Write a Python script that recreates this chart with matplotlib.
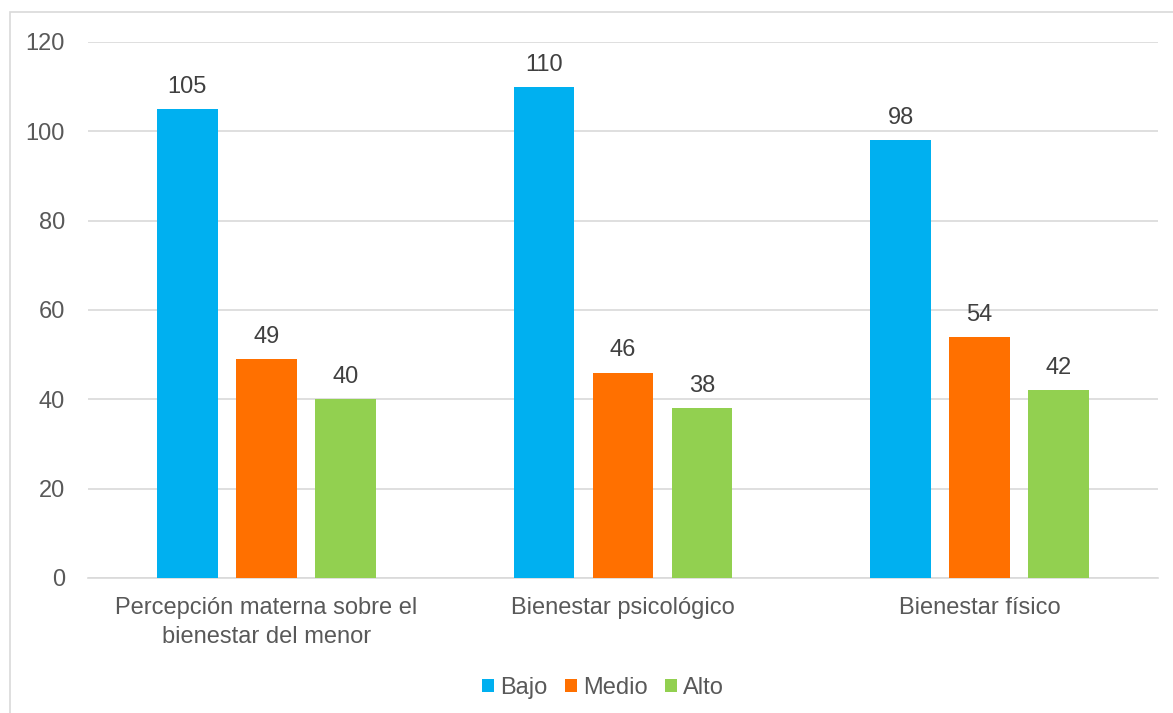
import matplotlib
matplotlib.use("Agg")
import matplotlib.pyplot as plt
from matplotlib.patches import Rectangle
import numpy as np

categories = ["Percepción materna sobre el\nbienestar del menor",
              "Bienestar psicológico",
              "Bienestar físico"]
series_names = ["Bajo", "Medio", "Alto"]
bajo = [105, 110, 98]
medio = [49, 46, 54]
alto = [40, 38, 42]
yticks = [0, 20, 40, 60, 80, 100, 120]

colors = ["#00B0F0", "#FF7000", "#92D050"]
text_color = "#595959"
fs = 17

plt.rcParams["font.family"] = ["Liberation Sans", "DejaVu Sans"]

fig = plt.figure(figsize=(11.73, 7.13), dpi=100)
# chart frame
fig.patches.append(Rectangle((10 / 1173, -0.2), 1.2, 1.2 - 12 / 713,
                             transform=fig.transFigure, fill=False,
                             edgecolor="#D9D9D9", linewidth=1.2))

ax = fig.add_axes([88 / 1173, 1 - 578 / 713, (1158 - 88) / 1173, (578 - 42) / 713])

x = np.arange(len(categories))
width = 0.171
step = 0.2215
for i, (vals, name, c) in enumerate(zip([bajo, medio, alto], series_names, colors)):
    pos = x + (i - 1) * step
    ax.bar(pos, vals, width, color=c, label=name, zorder=3)
    for p, v in zip(pos, vals):
        ax.text(p, v + 3.6, f"{v}", ha="center", va="baseline",
                fontsize=fs, color="#404040")

ax.set_xlim(-0.5, 2.5)
ax.set_ylim(0, 120)
ax.set_yticks(yticks)
ax.set_xticks(x)
ax.set_xticklabels(categories, fontsize=fs, color=text_color, linespacing=1.38)
ax.tick_params(axis="y", labelsize=fs, labelcolor=text_color, length=0, pad=16.5)
ax.tick_params(axis="x", length=0, pad=14)
ax.yaxis.grid(True, color="#D9D9D9", linewidth=1.2, zorder=0)
for s in ["top", "right", "left"]:
    ax.spines[s].set_visible(False)
ax.spines["bottom"].set_color("#D9D9D9")
ax.spines["bottom"].set_linewidth(1.2)

fig.legend(loc="center", bbox_to_anchor=(603 / 1173, 1 - 688 / 713), ncol=3,
           frameon=False, fontsize=fs, labelcolor=text_color,
           handlelength=0.5, handleheight=0.5, handletextpad=0.25,
           columnspacing=0.76)

fig.savefig("out.png", dpi=100)
